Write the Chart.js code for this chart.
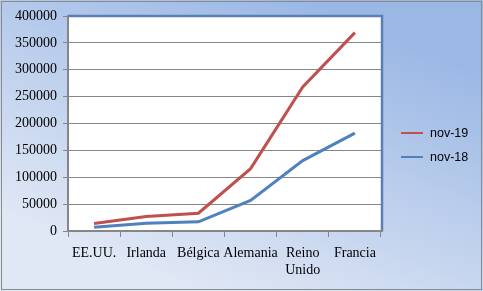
<!DOCTYPE html>
<html>
<head>
<meta charset="utf-8">
<script src="https://cdn.jsdelivr.net/npm/chart.js@4/dist/chart.umd.min.js"></script>
<style>
  html,body{margin:0;padding:0;background:#fff;}
  canvas{display:block;}
</style>
</head>
<body>
<canvas id="c" width="483" height="291"></canvas>
<script>
// datos
const paises = ['EE.UU.', 'Irlanda', 'Bélgica', 'Alemania', ['Reino', 'Unido'], 'Francia'];
const nov19 = [14000, 27000, 33000, 116000, 268000, 369000];
const nov18 = [7000, 14500, 17000, 57000, 131000, 182000];
const yTicks = [0, 50000, 100000, 150000, 200000, 250000, 300000, 350000, 400000];

const serif = 'Liberation Serif, Times New Roman, serif';

// fondo degradado + marco del área de trazado
const fondo = {
  id: 'fondo',
  beforeDraw(chart){
    const {ctx, width, height, chartArea: a} = chart;
    ctx.save();
    const g = ctx.createLinearGradient(width*0.62, 0, width*0.38, height);
    g.addColorStop(0, '#9bb8e5');
    g.addColorStop(1, '#e1e8f5');
    ctx.fillStyle = g;
    ctx.fillRect(0, 0, width, height);
    ctx.strokeStyle = '#8a8a8a';
    ctx.lineWidth = 1;
    ctx.strokeRect(1.5, 1.5, width-3, height-3);
    ctx.fillStyle = '#fff';
    ctx.fillRect(a.left, a.top, a.right-a.left, a.bottom-a.top);
    ctx.restore();
  },
  afterDatasetsDraw(chart){
    const {ctx, chartArea: a} = chart;
    ctx.save();
    ctx.strokeStyle = '#5a7fb6';
    ctx.lineWidth = 2.5;
    ctx.beginPath();
    ctx.moveTo(a.left, a.top);
    ctx.lineTo(a.right+1, a.top);
    ctx.lineTo(a.right+1, a.bottom);
    ctx.stroke();
    ctx.strokeStyle = '#868686';
    ctx.lineWidth = 2;
    ctx.beginPath();
    ctx.moveTo(a.left, a.top-1);
    ctx.lineTo(a.left, a.bottom);
    ctx.lineTo(a.right+2, a.bottom);
    ctx.stroke();
    ctx.restore();
  },
  afterDraw(chart){
    // leyenda a la derecha
    const {ctx, chartArea: a} = chart;
    ctx.save();
    ctx.font = '12.5px Liberation Sans, Arial, sans-serif';
    ctx.textBaseline = 'middle';
    chart.data.datasets.forEach((ds, i)=>{
      const y = 133 + i*24;
      ctx.strokeStyle = ds.borderColor;
      ctx.lineWidth = 2;
      ctx.beginPath();
      ctx.moveTo(a.right+20, y);
      ctx.lineTo(a.right+42, y);
      ctx.stroke();
      ctx.fillStyle = '#000';
      ctx.fillText(ds.label, a.right+49, y+1);
    });
    ctx.restore();
  }
};

new Chart(document.getElementById('c'), {
  type: 'line',
  data: {
    labels: paises,
    datasets: [
      {label:'nov-19', data: nov19, borderColor:'#c0504d', borderWidth:3, pointRadius:0, tension:0},
      {label:'nov-18', data: nov18, borderColor:'#4f81bd', borderWidth:3, pointRadius:0, tension:0}
    ]
  },
  options: {
    responsive:false,
    animation:false,
    layout:{ padding:{ top:16, right:102, left:0, bottom:0 } },
    plugins:{ legend:{display:false}, tooltip:{enabled:false} },
    scales:{
      x:{
        offset:true,
        grid:{ offset:true, drawOnChartArea:false, color:'#868686', tickLength:6, lineWidth:1 },
        border:{ display:false },
        ticks:{ color:'#000', font:{family:serif, size:14}, padding:8, maxRotation:0, autoSkip:false },
        afterFit(s){ s.height = 60; }
      },
      y:{
        min:0, max:400000,
        afterBuildTicks(s){ s.ticks = yTicks.map(v=>({value:v})); },
        grid:{ color:'#868686', tickLength:5, lineWidth:1 },
        border:{ display:false },
        ticks:{ color:'#000', font:{family:serif, size:14}, padding:6, callback:(v)=>String(v) },
        afterFit(s){ s.width = 68; }
      }
    }
  },
  plugins:[fondo]
});
</script>
</body>
</html>
